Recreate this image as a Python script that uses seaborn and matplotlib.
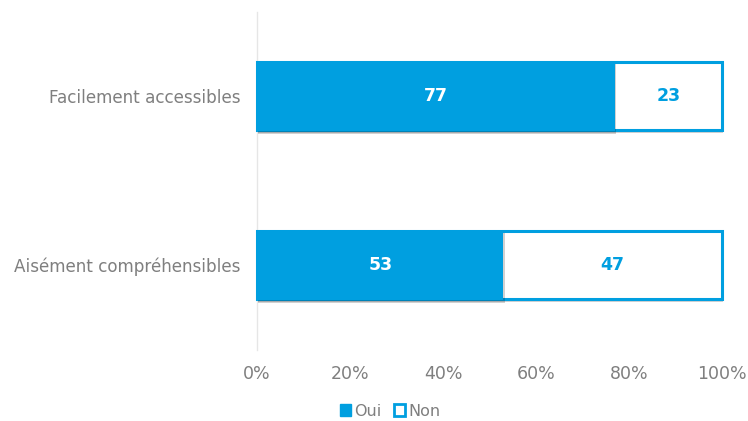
import matplotlib
matplotlib.use("Agg")
import matplotlib.pyplot as plt
import matplotlib.patheffects as pe
import seaborn as sns
import pandas as pd
from matplotlib.patches import Patch
from matplotlib.ticker import FuncFormatter

categories = ["Facilement accessibles", "Aisément compréhensibles"]
oui = [77, 53]
non = [23, 47]
xticks = [0, 20, 40, 60, 80, 100]

BLUE = "#009FE0"
GREY = "#7F7F7F"

sns.set_theme(style="white")
plt.rcParams["font.family"] = ["DejaVu Sans"]

df = pd.DataFrame({"cat": categories, "oui": oui, "non": non})
df["total"] = df["oui"] + df["non"]

fig = plt.figure(figsize=(7.48, 4.21), dpi=100)
ax = fig.add_axes([257/748, 1 - 349.5/421, (722 - 257)/748, 338/421])

shadow = [pe.SimplePatchShadow(offset=(1, -2), shadow_rgbFace="black", alpha=0.18), pe.Normal()]

sns.barplot(data=df, y="cat", x="total", orient="h", color="white",
            edgecolor=BLUE, linewidth=2.2, width=0.40, ax=ax, saturation=1)
sns.barplot(data=df, y="cat", x="oui", orient="h", color=BLUE,
            edgecolor=BLUE, linewidth=0, width=0.414, ax=ax, saturation=1)
for p in ax.patches:
    p.set_path_effects(shadow)
    p.set_clip_on(False)

for i, (o, n) in enumerate(zip(oui, non)):
    ax.text(o / 2, i, f"{o}", ha="center", va="center", color="white",
            fontsize=12.5, fontweight="bold")
    ax.text(o + n / 2, i, f"{n}", ha="center", va="center", color=BLUE,
            fontsize=12.5, fontweight="bold")

ax.set_xlim(0, 100)
ax.set_ylim(1.5, -0.5)
ax.set_xticks(xticks)
ax.xaxis.set_major_formatter(FuncFormatter(lambda v, p: f"{int(v)}%"))
ax.set_xlabel("")
ax.set_ylabel("")
for s in ["top", "right", "bottom"]:
    ax.spines[s].set_visible(False)
ax.spines["left"].set_color("#E6E6E6")
ax.spines["left"].set_linewidth(1)
ax.spines["left"].set_zorder(0)
ax.tick_params(axis="x", colors=GREY, labelsize=12.5, length=0, pad=11)
ax.tick_params(axis="y", colors=GREY, labelsize=12.1, length=0, pad=12)
ax.grid(False)

handles = [Patch(facecolor=BLUE, edgecolor=BLUE, label="Oui"),
           Patch(facecolor="white", edgecolor=BLUE, linewidth=2, label="Non")]
fig.legend(handles=handles, loc="center", bbox_to_anchor=(390/748, 1 - 411/421),
           ncol=2, frameon=False, fontsize=11.5, handlelength=0.7,
           handleheight=0.7, handletextpad=0.2, columnspacing=0.8,
           labelcolor=GREY)

fig.savefig("out.png", dpi=100)
